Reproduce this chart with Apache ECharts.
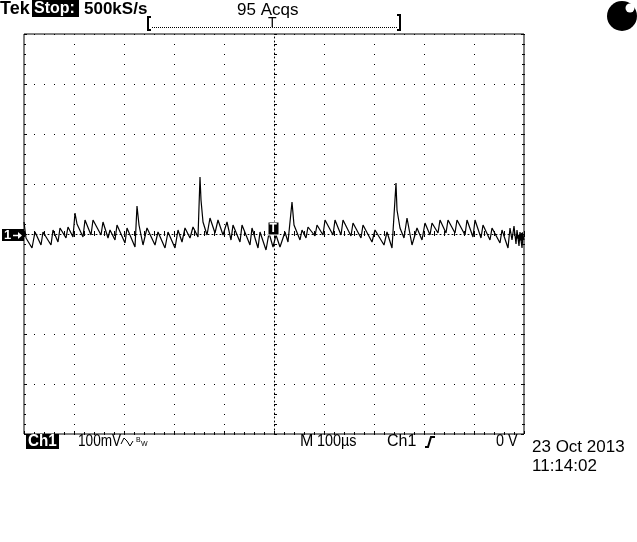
<!DOCTYPE html>
<html>
<head>
<meta charset="utf-8">
<script src="https://cdn.jsdelivr.net/npm/echarts@6/dist/echarts.min.js"></script>
<style>
html,body{margin:0;padding:0;background:#fff;}
#c{width:637px;height:542px;}
</style>
</head>
<body>
<div id="c"></div>
<script>
// Time relative to trigger (µs), 100 µs/div
var timeUs = [
-500,-496,-484,-478,-466,-462,-446,-442,-432,-428,
-416,-412,-402,-398,-394,-382,-378,-366,-362,-346,
-342,-332,-328,-318,-314,-298,-294,-278,-274,-270,
-262,-254,-238,-232,-218,-212,-198,-192,-184,-178,
-168,-162,-152,-148,-146,-142,-134,-128,-118,-112,
-102,-94,-86,-82,-68,-64,-48,-44,-32,-28,
-16,-10,-2,4,12,22,28,36,40,52,
56,64,68,82,86,98,102,118,122,134,
138,154,158,174,178,196,202,220,226,236,
244,246,252,260,266,276,286,296,302,312,
316,328,332,344,348,362,366,382,386,398,
402,414,418,432,436,452,456,468,472,476,
480,484,486,490,492,496,498,500
];
// Ch1 voltage (mV), 100 mV/div
var ch1mV = [
24,-8,-28,4,-22,4,-22,8,-16,12,
-8,14,-6,42,20,-6,28,-2,28,-2,
24,-8,8,-12,18,-18,12,-26,56,18,
-22,12,-22,4,-28,4,-28,8,-16,12,
-8,14,-6,114,68,24,-2,32,2,28,
-2,24,-12,18,-16,18,-22,12,-28,4,
-32,2,-26,-2,-26,4,-16,64,18,-12,
8,-8,14,-4,18,-2,28,-2,28,-2,
28,-4,22,-8,18,-16,8,-22,4,-28,
102,48,12,-8,32,-22,12,-12,22,-2,
22,2,28,2,28,2,28,-2,28,-6,
28,-8,18,-12,12,-18,8,-28,12,-12,
16,-20,8,-24,4,-28,-2,-12
];
var headerTexts = ['Tek', 'Stop:', '500kS/s', '95 Acqs'];
var footerTexts = ['Ch1', '100mV', 'M', '100\u00b5s', 'Ch1', '0 V', '23 Oct 2013', '11:14:02'];

var pts = timeUs.map(function (t, i) { return [t, ch1mV[i]]; });

var chart = echarts.init(document.getElementById('c'), null, {renderer: 'canvas'});
var F = '"Liberation Sans", Arial, sans-serif';
function txt(x, y, s, size, opts) {
  opts = opts || {};
  return {
    type: 'text', x: x, y: y, z: 100, scaleX: opts.sx || 1,
    style: {
      text: s, fill: opts.fill || '#000',
      font: (opts.weight || 'normal') + ' ' + size + 'px ' + F,
      verticalAlign: 'middle', align: 'left'
    }
  };
}
var tickCommon = {
  axisLine: {show: false},
  axisLabel: {show: false},
  splitLine: {show: false},
  axisTick: {show: true, inside: true, length: 3, lineStyle: {color: '#000'}},
  minorTick: {show: true, splitNumber: 5, length: 2, lineStyle: {color: '#000'}}
};
function ext(base, extra) { return Object.assign({}, base, extra); }

chart.setOption({
  animation: false,
  backgroundColor: '#fff',
  grid: {left: 24, top: 34, width: 500, height: 400, show: true,
         borderColor: '#000', borderWidth: 1, backgroundColor: 'transparent'},
  xAxis: [
    {type: 'value', min: -500, max: 500, interval: 100,
     axisLine: {show: true, onZero: true, lineStyle: {color: '#000', width: 1, type: [1, 3]}},
     axisTick: {show: true, inside: true, length: 3, lineStyle: {color: '#000'}},
     minorTick: {show: true, splitNumber: 5, length: 3, lineStyle: {color: '#000'}},
     axisLabel: {show: false},
     splitLine: {show: true, lineStyle: {color: '#000', width: 1, type: [1, 9]}}},
    ext(tickCommon, {type: 'value', min: -500, max: 500, interval: 100, position: 'top'}),
    ext(tickCommon, {type: 'value', min: -500, max: 500, interval: 100, position: 'bottom',
                     axisLine: {show: false, onZero: false}})
  ],
  yAxis: [
    {type: 'value', min: -400, max: 400, interval: 100,
     axisLine: {show: true, onZero: true, lineStyle: {color: '#000', width: 1, type: [1, 3]}},
     axisTick: {show: true, inside: true, length: 3, lineStyle: {color: '#000'}},
     minorTick: {show: true, splitNumber: 5, length: 3, lineStyle: {color: '#000'}},
     axisLabel: {show: false},
     splitLine: {show: true, lineStyle: {color: '#000', width: 1, type: [1, 9]}}},
    ext(tickCommon, {type: 'value', min: -400, max: 400, interval: 100, position: 'left',
                     axisLine: {show: false, onZero: false}}),
    ext(tickCommon, {type: 'value', min: -400, max: 400, interval: 100, position: 'right',
                     axisLine: {show: false, onZero: false}})
  ],
  series: [{
    type: 'line', data: pts, xAxisIndex: 0, yAxisIndex: 0,
    showSymbol: false, symbol: 'none', clip: true,
    lineStyle: {color: '#000', width: 1.2}, z: 5
  }],
  graphic: {elements: [
    // header
    txt(0, 9, headerTexts[0], 18, {weight: 'bold'}),
    {type: 'rect', z: 99, shape: {x: 32, y: 0, width: 47, height: 17}, style: {fill: '#000'}},
    txt(34, 9, headerTexts[1], 16, {weight: 'bold', fill: '#fff'}),
    txt(84, 9, headerTexts[2], 17, {weight: 'bold'}),
    txt(237, 10, headerTexts[3], 17),
    // trigger position bar
    {type: 'polyline', z: 100, shape: {points: [[151, 17], [148, 17], [148, 30], [151, 30]]}, style: {stroke: '#000', lineWidth: 2, fill: null}},
    {type: 'line', z: 100, shape: {x1: 152, y1: 27.5, x2: 397, y2: 27.5}, style: {stroke: '#000', lineWidth: 1, lineDash: [1, 1]}},
    {type: 'polyline', z: 100, shape: {points: [[397, 15], [400, 15], [400, 30], [397, 30]]}, style: {stroke: '#000', lineWidth: 2, fill: null}},
    txt(268, 23, 'T', 14),
    // status circle
    {type: 'circle', z: 100, shape: {cx: 622, cy: 16, r: 15}, style: {fill: '#000'}},
    {type: 'circle', z: 101, shape: {cx: 630, cy: 8, r: 4.5}, style: {fill: '#fff'}},
    // ground marker
    {type: 'rect', z: 99, shape: {x: 2, y: 229, width: 22, height: 12}, style: {fill: '#000'}},
    txt(4, 235.5, '1', 13, {weight: 'bold', fill: '#fff'}),
    {type: 'line', z: 100, shape: {x1: 13, y1: 235.5, x2: 20, y2: 235.5}, style: {stroke: '#fff', lineWidth: 1.5}},
    {type: 'polygon', z: 100, shape: {points: [[18, 232], [22, 235.5], [18, 239]]}, style: {fill: '#fff'}},
    // trigger marker on trace
    {type: 'rect', z: 99, shape: {x: 268, y: 222, width: 11, height: 13}, style: {fill: '#000', stroke: '#fff', lineWidth: 1}},
    txt(269.5, 229, 'T', 12, {weight: 'bold', fill: '#fff'}),
    // trigger level marker right
    {type: 'polygon', z: 99, shape: {points: [[523, 232], [515, 237], [523, 242]]}, style: {fill: '#000'}},
    // footer
    {type: 'rect', z: 99, shape: {x: 26, y: 434, width: 33, height: 15}, style: {fill: '#000'}},
    txt(28, 442, footerTexts[0], 16, {weight: 'bold', fill: '#fff', sx: 0.95}),
    txt(78, 442, footerTexts[1], 16, {sx: 0.85}),
    {type: 'polyline', z: 100, shape: {points: [[121, 444], [124, 438], [127, 441], [130, 446], [133, 441]]}, style: {stroke: '#000', lineWidth: 1, fill: null}},
    txt(136, 440, 'B', 7),
    txt(141, 444, 'W', 7),
    txt(300, 442, footerTexts[2], 16),
    txt(317, 442, footerTexts[3], 16, {sx: 0.9}),
    txt(387, 442, footerTexts[4], 16),
    {type: 'polyline', z: 100, shape: {points: [[425, 447], [428, 447], [431, 437], [435, 437]]}, style: {stroke: '#000', lineWidth: 2, fill: null}},
    txt(496, 442, footerTexts[5], 16, {sx: 0.9}),
    txt(532, 447, footerTexts[6], 17),
    txt(532, 466, footerTexts[7], 17)
  ]}
});
</script>
</body>
</html>
